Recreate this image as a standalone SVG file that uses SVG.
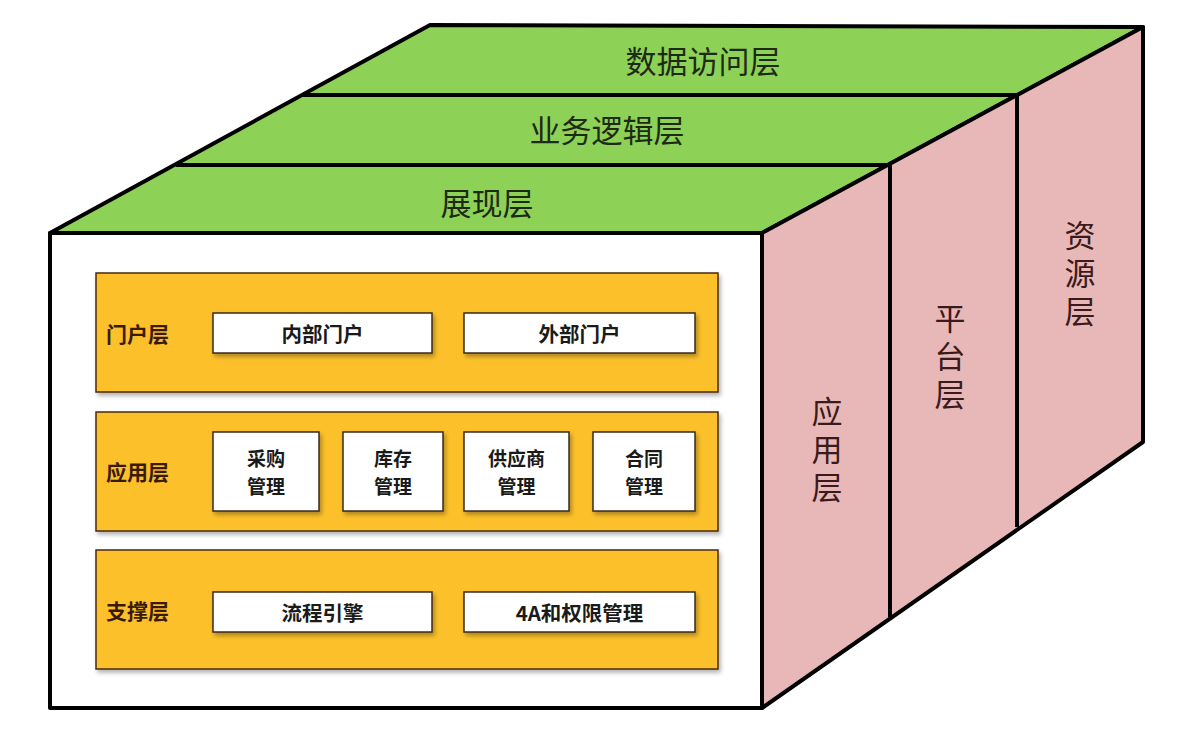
<svg xmlns="http://www.w3.org/2000/svg" width="1185" height="733" viewBox="0 0 1185 733">
<style>
.edge{stroke:#000;stroke-width:4;stroke-linejoin:round;}
.top{fill:#8dd157;}
.side{fill:#e8b8b8;}
.front{fill:#fff;}
.panel{fill:#fcc12a;stroke:#4a2a10;stroke-width:1.5;filter:url(#sh);}
.box{fill:#fff;stroke:#3a2a1a;stroke-width:1.5;filter:url(#sh);}
.lbl{font-family:"Noto Sans CJK SC","Noto Sans",sans-serif;font-weight:bold;font-size:21px;fill:#3b1a05;dominant-baseline:central;}
.bt{font-family:"Noto Sans CJK SC","Noto Sans",sans-serif;font-weight:bold;font-size:20.5px;fill:#1a1a1a;text-anchor:middle;dominant-baseline:central;}
.bt2{font-family:"Noto Sans CJK SC","Noto Sans",sans-serif;font-weight:bold;font-size:19px;fill:#1a1a1a;text-anchor:middle;dominant-baseline:central;}
.gt{font-family:"Noto Sans CJK SC","Noto Sans",sans-serif;font-size:31px;fill:#1e2a14;text-anchor:middle;dominant-baseline:central;}
.pt{font-family:"Noto Sans CJK SC","Noto Sans",sans-serif;font-size:31px;fill:#3a1a1a;text-anchor:middle;writing-mode:vertical-rl;letter-spacing:7px;}
</style>
<defs>
<filter id="sh" x="-10%" y="-10%" width="125%" height="130%">
<feDropShadow dx="2" dy="3" stdDeviation="2" flood-color="#000" flood-opacity="0.3"/>
</filter>
</defs>
<rect width="1185" height="733" fill="#fff"/>
<g id="top-face">
<polygon class="top edge" points="50,233 430,25 1143,27 762,233"/>
<line class="edge" x1="302" y1="95" x2="1017" y2="95"/>
<line class="edge" x1="176" y1="165" x2="890" y2="165"/>
<text class="gt" x="703" y="59">数据访问层</text>
<text class="gt" x="607" y="128">业务逻辑层</text>
<text class="gt" x="487" y="201">展现层</text>
</g>
<g id="side-face">
<polygon class="side edge" points="762,233 1143,27 1143,442 762,708"/>
<line class="edge" x1="890" y1="165" x2="890" y2="617"/>
<line class="edge" x1="1017" y1="95" x2="1017" y2="527"/>
<text class="pt" x="827" y="453">应用层</text>
<text class="pt" x="950" y="360">平台层</text>
<text class="pt" x="1080" y="277">资源层</text>
</g>
<g id="front-face">
<rect class="front edge" x="50" y="233" width="712" height="475"/>
</g>
<g id="portal-layer">
<rect class="panel" x="96" y="273" width="622" height="119"/>
<text class="lbl" x="106" y="333">门户层</text>
<g id="internal-portal"><rect class="box" x="213" y="313" width="219" height="40"/><text class="bt" x="322.5" y="333">内部门户</text></g>
<g id="external-portal"><rect class="box" x="464" y="313" width="231" height="40"/><text class="bt" x="579.5" y="333">外部门户</text></g>
</g>
<g id="app-layer">
<rect class="panel" x="96" y="412" width="622" height="119"/>
<text class="lbl" x="106" y="471">应用层</text>
<g id="purchase"><rect class="box" x="213" y="432" width="106" height="79"/><text class="bt2"><tspan x="266" y="457">采购</tspan><tspan x="266" y="485">管理</tspan></text></g>
<g id="inventory"><rect class="box" x="343" y="432" width="100" height="79"/><text class="bt2"><tspan x="393" y="457">库存</tspan><tspan x="393" y="485">管理</tspan></text></g>
<g id="supplier"><rect class="box" x="464" y="432" width="105" height="79"/><text class="bt2"><tspan x="516.5" y="457">供应商</tspan><tspan x="516.5" y="485">管理</tspan></text></g>
<g id="contract"><rect class="box" x="593" y="432" width="102" height="79"/><text class="bt2"><tspan x="644" y="457">合同</tspan><tspan x="644" y="485">管理</tspan></text></g>
</g>
<g id="support-layer">
<rect class="panel" x="96" y="550" width="622" height="119"/>
<text class="lbl" x="106" y="610">支撑层</text>
<g id="workflow"><rect class="box" x="213" y="592" width="219" height="40"/><text class="bt" x="322.5" y="612">流程引擎</text></g>
<g id="auth"><rect class="box" x="464" y="592" width="231" height="40"/><text class="bt" x="579.5" y="612">4A和权限管理</text></g>
</g>
<g id="connectors"></g>
</svg>
